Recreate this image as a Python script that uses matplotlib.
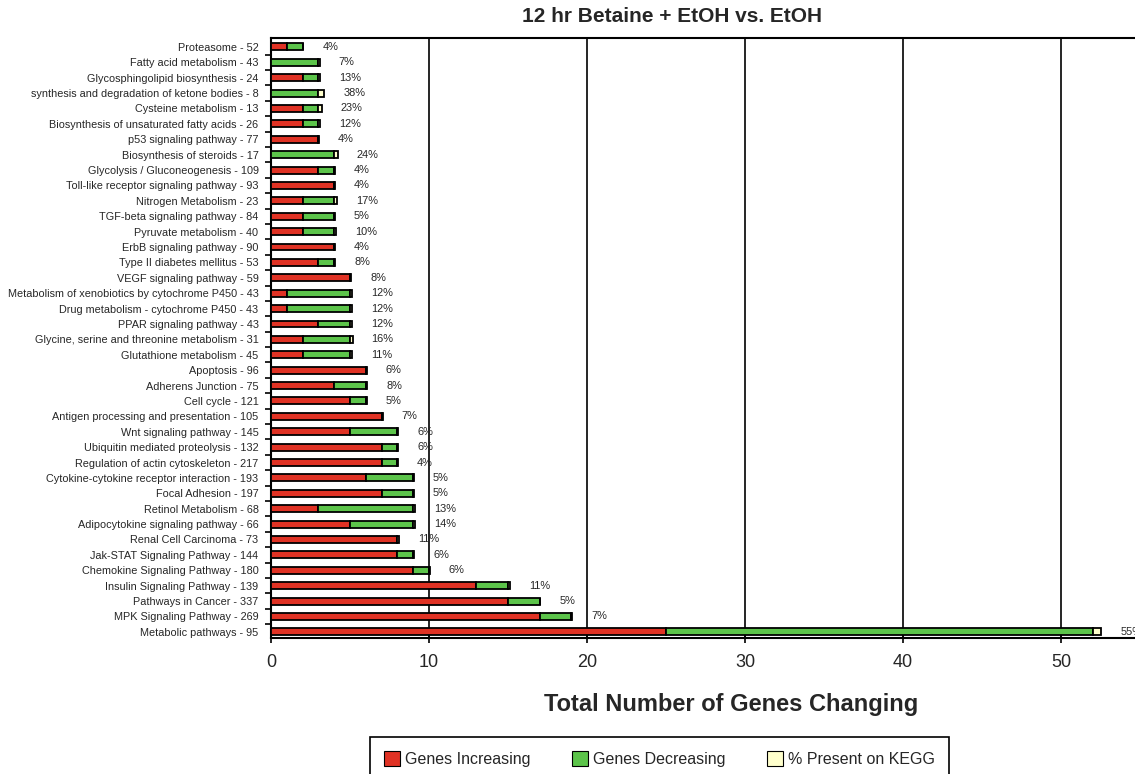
import numpy as np
import matplotlib
matplotlib.use('Agg')
import matplotlib.pyplot as plt

plt.rcParams['font.family'] = ['Liberation Sans', 'DejaVu Sans']

# ── data (top to bottom) ─────────────────────────────────────────
pathways = [
    "Proteasome - 52", "Fatty acid metabolism - 43",
    "Glycosphingolipid biosynthesis - 24",
    "synthesis and degradation of ketone bodies - 8",
    "Cysteine metabolism - 13",
    "Biosynthesis of unsaturated fatty acids - 26",
    "p53 signaling pathway - 77", "Biosynthesis of steroids - 17",
    "Glycolysis / Gluconeogenesis - 109",
    "Toll-like receptor signaling pathway - 93",
    "Nitrogen Metabolism - 23", "TGF-beta signaling pathway - 84",
    "Pyruvate metabolism - 40", "ErbB signaling pathway - 90",
    "Type II diabetes mellitus - 53", "VEGF signaling pathway - 59",
    "Metabolism of xenobiotics by cytochrome P450 - 43",
    "Drug metabolism - cytochrome P450 - 43",
    "PPAR signaling pathway - 43",
    "Glycine, serine and threonine metabolism - 31",
    "Glutathione metabolism - 45", "Apoptosis - 96",
    "Adherens Junction - 75", "Cell cycle - 121",
    "Antigen processing and presentation - 105",
    "Wnt signaling pathway - 145", "Ubiquitin mediated proteolysis - 132",
    "Regulation of actin cytoskeleton - 217",
    "Cytokine-cytokine receptor interaction - 193",
    "Focal Adhesion - 197", "Retinol Metabolism - 68",
    "Adipocytokine signaling pathway - 66", "Renal Cell Carcinoma - 73",
    "Jak-STAT Signaling Pathway - 144", "Chemokine Signaling Pathway - 180",
    "Insulin Signaling Pathway - 139", "Pathways in Cancer - 337",
    "MPK Signaling Pathway - 269", "Metabolic pathways - 95",
]
genes_up = [1, 0, 2, 0, 2, 2, 3, 0, 3, 4, 2, 2, 2, 4, 3, 5, 1, 1, 3, 2,
            2, 6, 4, 5, 7, 5, 7, 7, 6, 7, 3, 5, 8, 8, 9, 13, 15, 17, 25]
genes_down = [1, 3, 1, 3, 1, 1, 0, 4, 1, 0, 2, 2, 2, 0, 1, 0, 4, 4, 2, 3,
              3, 0, 2, 1, 0, 3, 1, 1, 3, 2, 6, 4, 0, 1, 1, 2, 2, 2, 27]
pct_kegg = [4, 7, 13, 38, 23, 12, 4, 24, 4, 4, 17, 5, 10, 4, 8, 8, 12, 12,
            12, 16, 11, 6, 8, 5, 7, 6, 6, 4, 5, 5, 13, 14, 11, 6, 6, 11, 5,
            7, 55]

up = np.array(genes_up, dtype=float)
down = np.array(genes_down, dtype=float)
pct = np.array(pct_kegg, dtype=float) / 100.0
y = np.arange(len(pathways))

RED, GREEN, CREAM = '#E03224', '#5CC44A', '#FFFFCC'
TXT = '#262626'

fig = plt.figure(figsize=(11.35, 7.74), dpi=100)
ax = fig.add_axes([271 / 1135, 136 / 774, 864 / 1135, 600 / 774])

kw = dict(height=0.45, edgecolor='black', linewidth=1.3, zorder=3)
ax.barh(y, up, color=RED, label='Genes Increasing', **kw)
ax.barh(y, down, left=up, color=GREEN, label='Genes Decreasing', **kw)
ax.barh(y, pct, left=up + down, color=CREAM, label='% Present on KEGG', **kw)

for yi, tot, p in zip(y, up + down + pct, pct_kegg):
    ax.text(tot + 1.2, yi, f"{p}%", va='center', ha='left', fontsize=7.9,
            color=TXT, zorder=4)

ax.set_xlim(0, 864 / 15.8)
ax.set_ylim(len(pathways) - 0.6, -0.58)

ax.set_yticks(y)
ax.set_yticklabels(pathways, fontsize=7.8, color=TXT)
ax.tick_params(axis='y', length=0, pad=9)
ax.set_yticks(y[:-1] + 0.5, minor=True)
ax.tick_params(axis='y', which='minor', length=4, width=1.2, direction='out')

ax.set_xticks([0, 10, 20, 30, 40, 50])
ax.tick_params(axis='x', labelsize=13, length=7, width=1.2, direction='inout',
               pad=8, labelcolor=TXT)
ax.xaxis.grid(True, color='black', linewidth=1.2, zorder=1)
ax.set_axisbelow(True)

for s in ['left', 'top', 'bottom']:
    ax.spines[s].set_linewidth(1.5)
ax.spines['right'].set_visible(False)

fig.text(672 / 1135, 1 - 17 / 774, "12 hr Betaine + EtOH vs. EtOH",
         ha='center', va='center', fontsize=15, fontweight='bold', color=TXT)
fig.text(731 / 1135, 1 - 704 / 774, "Total Number of Genes Changing",
         ha='center', va='center', fontsize=17, fontweight='bold', color=TXT)

leg = fig.legend(loc='upper left', bbox_to_anchor=(370 / 1135, 1 - 737 / 774),
                 ncol=3, fontsize=11.5, frameon=True, fancybox=False,
                 edgecolor='black', framealpha=1, borderaxespad=0,
                 handlelength=1.0, handleheight=1.0, handletextpad=0.3,
                 columnspacing=2.6, borderpad=0.9)
leg.get_frame().set_linewidth(1.2)
for h in leg.legend_handles:
    h.set_linewidth(0.8)
for t in leg.get_texts():
    t.set_color(TXT)

fig.savefig('out.png', dpi=100)
